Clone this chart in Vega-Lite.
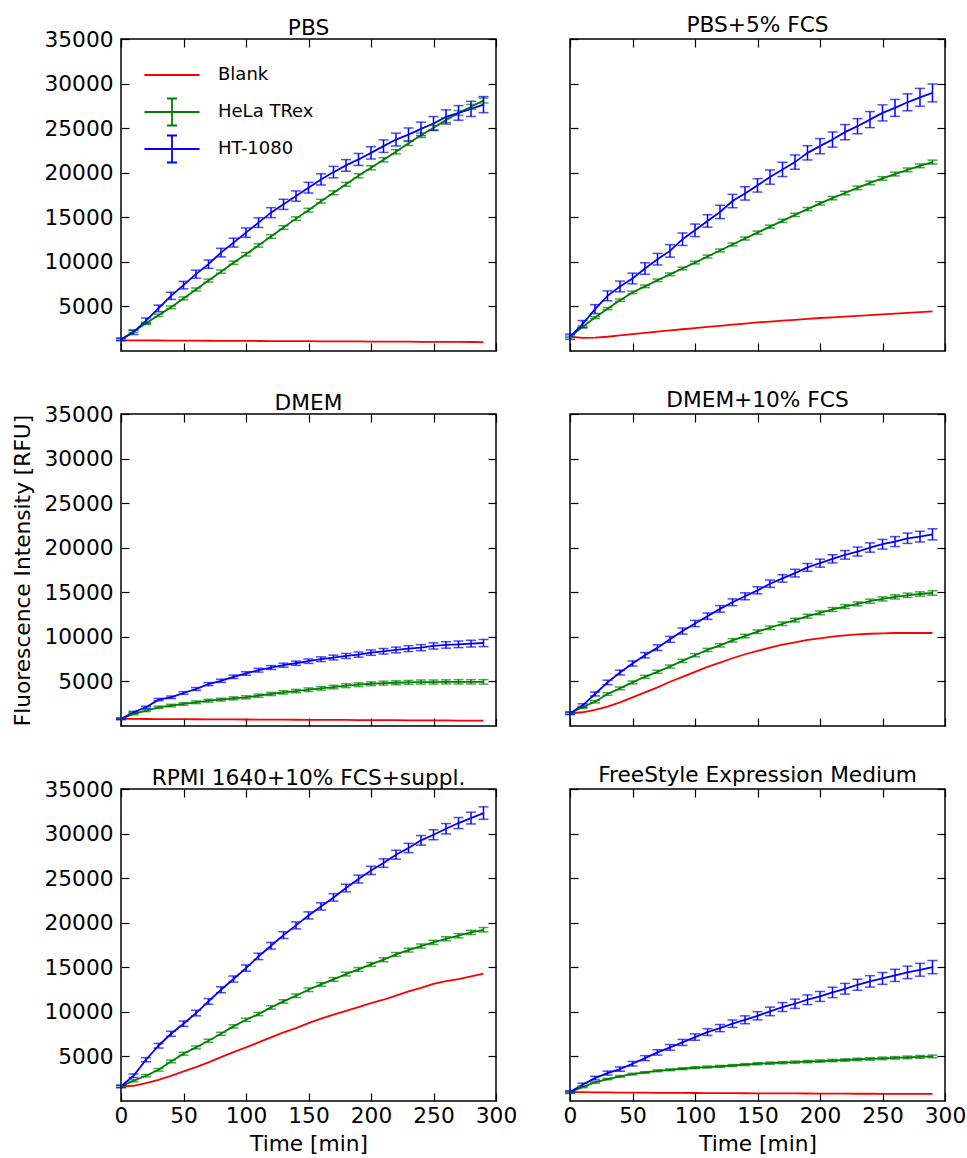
{
"$schema": "https://vega.github.io/schema/vega-lite/v6.json",
"padding": {"left": 11, "top": 14, "right": 5, "bottom": 5},
"background": "white",
"bounds": "flush",
"columns": 2,
"spacing": {"row": 63, "column": 74},
"resolve": {"scale": {"color": "independent"}, "legend": {"color": "independent"}},
"datasets": {"d": [
{"p":1,"s":"Blank","t":0,"v":1200},{"p":1,"s":"Blank","t":10,"v":1193},{"p":1,"s":"Blank","t":20,"v":1186},{"p":1,"s":"Blank","t":30,"v":1179},{"p":1,"s":"Blank","t":40,"v":1172},{"p":1,"s":"Blank","t":50,"v":1166},{"p":1,"s":"Blank","t":60,"v":1159},{"p":1,"s":"Blank","t":70,"v":1152},{"p":1,"s":"Blank","t":80,"v":1145},{"p":1,"s":"Blank","t":90,"v":1138},{"p":1,"s":"Blank","t":100,"v":1131},{"p":1,"s":"Blank","t":110,"v":1124},{"p":1,"s":"Blank","t":120,"v":1117},{"p":1,"s":"Blank","t":130,"v":1110},{"p":1,"s":"Blank","t":140,"v":1103},{"p":1,"s":"Blank","t":150,"v":1097},{"p":1,"s":"Blank","t":160,"v":1090},{"p":1,"s":"Blank","t":170,"v":1083},{"p":1,"s":"Blank","t":180,"v":1076},{"p":1,"s":"Blank","t":190,"v":1069},{"p":1,"s":"Blank","t":200,"v":1062},{"p":1,"s":"Blank","t":210,"v":1055},{"p":1,"s":"Blank","t":220,"v":1048},{"p":1,"s":"Blank","t":230,"v":1041},{"p":1,"s":"Blank","t":240,"v":1034},{"p":1,"s":"Blank","t":250,"v":1028},{"p":1,"s":"Blank","t":260,"v":1021},{"p":1,"s":"Blank","t":270,"v":1014},{"p":1,"s":"Blank","t":280,"v":1007},{"p":1,"s":"Blank","t":290,"v":1000},
{"p":1,"s":"HeLa TRex","t":0,"v":1300,"e":100},{"p":1,"s":"HeLa TRex","t":10,"v":2200,"e":120},{"p":1,"s":"HeLa TRex","t":20,"v":3100,"e":130},{"p":1,"s":"HeLa TRex","t":30,"v":4000,"e":140},{"p":1,"s":"HeLa TRex","t":40,"v":4900,"e":150},{"p":1,"s":"HeLa TRex","t":50,"v":5900,"e":160},{"p":1,"s":"HeLa TRex","t":60,"v":6900,"e":170},{"p":1,"s":"HeLa TRex","t":70,"v":7900,"e":170},{"p":1,"s":"HeLa TRex","t":80,"v":8900,"e":180},{"p":1,"s":"HeLa TRex","t":90,"v":9900,"e":180},{"p":1,"s":"HeLa TRex","t":100,"v":10850,"e":190},{"p":1,"s":"HeLa TRex","t":110,"v":11850,"e":190},{"p":1,"s":"HeLa TRex","t":120,"v":12850,"e":200},{"p":1,"s":"HeLa TRex","t":130,"v":13850,"e":200},{"p":1,"s":"HeLa TRex","t":140,"v":14850,"e":200},{"p":1,"s":"HeLa TRex","t":150,"v":15800,"e":210},{"p":1,"s":"HeLa TRex","t":160,"v":16800,"e":210},{"p":1,"s":"HeLa TRex","t":170,"v":17750,"e":220},{"p":1,"s":"HeLa TRex","t":180,"v":18700,"e":220},{"p":1,"s":"HeLa TRex","t":190,"v":19650,"e":230},{"p":1,"s":"HeLa TRex","t":200,"v":20550,"e":230},{"p":1,"s":"HeLa TRex","t":210,"v":21450,"e":240},{"p":1,"s":"HeLa TRex","t":220,"v":22350,"e":240},{"p":1,"s":"HeLa TRex","t":230,"v":23300,"e":250},{"p":1,"s":"HeLa TRex","t":240,"v":24200,"e":250},{"p":1,"s":"HeLa TRex","t":250,"v":25050,"e":260},{"p":1,"s":"HeLa TRex","t":260,"v":25900,"e":260},{"p":1,"s":"HeLa TRex","t":270,"v":26700,"e":270},{"p":1,"s":"HeLa TRex","t":280,"v":27400,"e":270},{"p":1,"s":"HeLa TRex","t":290,"v":28100,"e":280},
{"p":1,"s":"HT-1080","t":0,"v":1300,"e":150},{"p":1,"s":"HT-1080","t":10,"v":2100,"e":250},{"p":1,"s":"HT-1080","t":20,"v":3400,"e":300},{"p":1,"s":"HT-1080","t":30,"v":4780,"e":370},{"p":1,"s":"HT-1080","t":40,"v":6190,"e":400},{"p":1,"s":"HT-1080","t":50,"v":7390,"e":420},{"p":1,"s":"HT-1080","t":60,"v":8620,"e":450},{"p":1,"s":"HT-1080","t":70,"v":9740,"e":470},{"p":1,"s":"HT-1080","t":80,"v":11040,"e":480},{"p":1,"s":"HT-1080","t":90,"v":12160,"e":500},{"p":1,"s":"HT-1080","t":100,"v":13280,"e":520},{"p":1,"s":"HT-1080","t":110,"v":14400,"e":540},{"p":1,"s":"HT-1080","t":120,"v":15520,"e":560},{"p":1,"s":"HT-1080","t":130,"v":16450,"e":570},{"p":1,"s":"HT-1080","t":140,"v":17380,"e":580},{"p":1,"s":"HT-1080","t":150,"v":18320,"e":600},{"p":1,"s":"HT-1080","t":160,"v":19250,"e":620},{"p":1,"s":"HT-1080","t":170,"v":20070,"e":640},{"p":1,"s":"HT-1080","t":180,"v":20820,"e":650},{"p":1,"s":"HT-1080","t":190,"v":21490,"e":670},{"p":1,"s":"HT-1080","t":200,"v":22230,"e":690},{"p":1,"s":"HT-1080","t":210,"v":22980,"e":700},{"p":1,"s":"HT-1080","t":220,"v":23720,"e":720},{"p":1,"s":"HT-1080","t":230,"v":24280,"e":740},{"p":1,"s":"HT-1080","t":240,"v":24920,"e":760},{"p":1,"s":"HT-1080","t":250,"v":25520,"e":780},{"p":1,"s":"HT-1080","t":260,"v":26260,"e":800},{"p":1,"s":"HT-1080","t":270,"v":26710,"e":820},{"p":1,"s":"HT-1080","t":280,"v":27160,"e":850},{"p":1,"s":"HT-1080","t":290,"v":27640,"e":900},
{"p":2,"s":"Blank","t":0,"v":1600},{"p":2,"s":"Blank","t":10,"v":1480},{"p":2,"s":"Blank","t":20,"v":1500},{"p":2,"s":"Blank","t":30,"v":1600},{"p":2,"s":"Blank","t":40,"v":1750},{"p":2,"s":"Blank","t":50,"v":1900},{"p":2,"s":"Blank","t":60,"v":2040},{"p":2,"s":"Blank","t":70,"v":2180},{"p":2,"s":"Blank","t":80,"v":2310},{"p":2,"s":"Blank","t":90,"v":2440},{"p":2,"s":"Blank","t":100,"v":2575},{"p":2,"s":"Blank","t":110,"v":2700},{"p":2,"s":"Blank","t":120,"v":2830},{"p":2,"s":"Blank","t":130,"v":2950},{"p":2,"s":"Blank","t":140,"v":3080},{"p":2,"s":"Blank","t":150,"v":3200},{"p":2,"s":"Blank","t":160,"v":3300},{"p":2,"s":"Blank","t":170,"v":3400},{"p":2,"s":"Blank","t":180,"v":3500},{"p":2,"s":"Blank","t":190,"v":3600},{"p":2,"s":"Blank","t":200,"v":3700},{"p":2,"s":"Blank","t":210,"v":3780},{"p":2,"s":"Blank","t":220,"v":3860},{"p":2,"s":"Blank","t":230,"v":3940},{"p":2,"s":"Blank","t":240,"v":4020},{"p":2,"s":"Blank","t":250,"v":4100},{"p":2,"s":"Blank","t":260,"v":4190},{"p":2,"s":"Blank","t":270,"v":4270},{"p":2,"s":"Blank","t":280,"v":4360},{"p":2,"s":"Blank","t":290,"v":4440},
{"p":2,"s":"HeLa TRex","t":0,"v":1600,"e":80},{"p":2,"s":"HeLa TRex","t":10,"v":2700,"e":100},{"p":2,"s":"HeLa TRex","t":20,"v":3750,"e":110},{"p":2,"s":"HeLa TRex","t":30,"v":4750,"e":120},{"p":2,"s":"HeLa TRex","t":40,"v":5700,"e":130},{"p":2,"s":"HeLa TRex","t":50,"v":6570,"e":130},{"p":2,"s":"HeLa TRex","t":60,"v":7250,"e":140},{"p":2,"s":"HeLa TRex","t":70,"v":7930,"e":140},{"p":2,"s":"HeLa TRex","t":80,"v":8600,"e":150},{"p":2,"s":"HeLa TRex","t":90,"v":9260,"e":150},{"p":2,"s":"HeLa TRex","t":100,"v":9920,"e":150},{"p":2,"s":"HeLa TRex","t":110,"v":10600,"e":160},{"p":2,"s":"HeLa TRex","t":120,"v":11280,"e":160},{"p":2,"s":"HeLa TRex","t":130,"v":11950,"e":160},{"p":2,"s":"HeLa TRex","t":140,"v":12620,"e":170},{"p":2,"s":"HeLa TRex","t":150,"v":13280,"e":170},{"p":2,"s":"HeLa TRex","t":160,"v":13950,"e":170},{"p":2,"s":"HeLa TRex","t":170,"v":14600,"e":180},{"p":2,"s":"HeLa TRex","t":180,"v":15270,"e":180},{"p":2,"s":"HeLa TRex","t":190,"v":15920,"e":180},{"p":2,"s":"HeLa TRex","t":200,"v":16560,"e":190},{"p":2,"s":"HeLa TRex","t":210,"v":17150,"e":190},{"p":2,"s":"HeLa TRex","t":220,"v":17720,"e":190},{"p":2,"s":"HeLa TRex","t":230,"v":18300,"e":200},{"p":2,"s":"HeLa TRex","t":240,"v":18850,"e":200},{"p":2,"s":"HeLa TRex","t":250,"v":19360,"e":200},{"p":2,"s":"HeLa TRex","t":260,"v":19850,"e":210},{"p":2,"s":"HeLa TRex","t":270,"v":20320,"e":210},{"p":2,"s":"HeLa TRex","t":280,"v":20770,"e":210},{"p":2,"s":"HeLa TRex","t":290,"v":21190,"e":220},
{"p":2,"s":"HT-1080","t":0,"v":1600,"e":300},{"p":2,"s":"HT-1080","t":10,"v":3020,"e":400},{"p":2,"s":"HT-1080","t":20,"v":4700,"e":500},{"p":2,"s":"HT-1080","t":30,"v":6190,"e":550},{"p":2,"s":"HT-1080","t":40,"v":7240,"e":600},{"p":2,"s":"HT-1080","t":50,"v":8130,"e":600},{"p":2,"s":"HT-1080","t":60,"v":9250,"e":650},{"p":2,"s":"HT-1080","t":70,"v":10300,"e":650},{"p":2,"s":"HT-1080","t":80,"v":11230,"e":700},{"p":2,"s":"HT-1080","t":90,"v":12540,"e":700},{"p":2,"s":"HT-1080","t":100,"v":13540,"e":700},{"p":2,"s":"HT-1080","t":110,"v":14590,"e":700},{"p":2,"s":"HT-1080","t":120,"v":15600,"e":750},{"p":2,"s":"HT-1080","t":130,"v":16820,"e":750},{"p":2,"s":"HT-1080","t":140,"v":17680,"e":750},{"p":2,"s":"HT-1080","t":150,"v":18580,"e":750},{"p":2,"s":"HT-1080","t":160,"v":19510,"e":800},{"p":2,"s":"HT-1080","t":170,"v":20370,"e":800},{"p":2,"s":"HT-1080","t":180,"v":21190,"e":800},{"p":2,"s":"HT-1080","t":190,"v":22230,"e":800},{"p":2,"s":"HT-1080","t":200,"v":22980,"e":850},{"p":2,"s":"HT-1080","t":210,"v":23720,"e":850},{"p":2,"s":"HT-1080","t":220,"v":24550,"e":850},{"p":2,"s":"HT-1080","t":230,"v":25220,"e":850},{"p":2,"s":"HT-1080","t":240,"v":25960,"e":900},{"p":2,"s":"HT-1080","t":250,"v":26710,"e":900},{"p":2,"s":"HT-1080","t":260,"v":27270,"e":950},{"p":2,"s":"HT-1080","t":270,"v":27900,"e":950},{"p":2,"s":"HT-1080","t":280,"v":28460,"e":1000},{"p":2,"s":"HT-1080","t":290,"v":28950,"e":1000},
{"p":3,"s":"Blank","t":0,"v":800},{"p":3,"s":"Blank","t":10,"v":793},{"p":3,"s":"Blank","t":20,"v":786},{"p":3,"s":"Blank","t":30,"v":779},{"p":3,"s":"Blank","t":40,"v":772},{"p":3,"s":"Blank","t":50,"v":766},{"p":3,"s":"Blank","t":60,"v":759},{"p":3,"s":"Blank","t":70,"v":752},{"p":3,"s":"Blank","t":80,"v":745},{"p":3,"s":"Blank","t":90,"v":738},{"p":3,"s":"Blank","t":100,"v":731},{"p":3,"s":"Blank","t":110,"v":724},{"p":3,"s":"Blank","t":120,"v":717},{"p":3,"s":"Blank","t":130,"v":710},{"p":3,"s":"Blank","t":140,"v":703},{"p":3,"s":"Blank","t":150,"v":697},{"p":3,"s":"Blank","t":160,"v":690},{"p":3,"s":"Blank","t":170,"v":683},{"p":3,"s":"Blank","t":180,"v":676},{"p":3,"s":"Blank","t":190,"v":669},{"p":3,"s":"Blank","t":200,"v":662},{"p":3,"s":"Blank","t":210,"v":655},{"p":3,"s":"Blank","t":220,"v":648},{"p":3,"s":"Blank","t":230,"v":641},{"p":3,"s":"Blank","t":240,"v":634},{"p":3,"s":"Blank","t":250,"v":628},{"p":3,"s":"Blank","t":260,"v":621},{"p":3,"s":"Blank","t":270,"v":614},{"p":3,"s":"Blank","t":280,"v":607},{"p":3,"s":"Blank","t":290,"v":600},
{"p":3,"s":"HeLa TRex","t":0,"v":800,"e":80},{"p":3,"s":"HeLa TRex","t":10,"v":1360,"e":100},{"p":3,"s":"HeLa TRex","t":20,"v":1730,"e":120},{"p":3,"s":"HeLa TRex","t":30,"v":2100,"e":130},{"p":3,"s":"HeLa TRex","t":40,"v":2290,"e":140},{"p":3,"s":"HeLa TRex","t":50,"v":2470,"e":150},{"p":3,"s":"HeLa TRex","t":60,"v":2660,"e":150},{"p":3,"s":"HeLa TRex","t":70,"v":2840,"e":160},{"p":3,"s":"HeLa TRex","t":80,"v":2960,"e":160},{"p":3,"s":"HeLa TRex","t":90,"v":3100,"e":170},{"p":3,"s":"HeLa TRex","t":100,"v":3220,"e":170},{"p":3,"s":"HeLa TRex","t":110,"v":3400,"e":180},{"p":3,"s":"HeLa TRex","t":120,"v":3590,"e":180},{"p":3,"s":"HeLa TRex","t":130,"v":3770,"e":190},{"p":3,"s":"HeLa TRex","t":140,"v":3920,"e":190},{"p":3,"s":"HeLa TRex","t":150,"v":4070,"e":200},{"p":3,"s":"HeLa TRex","t":160,"v":4220,"e":200},{"p":3,"s":"HeLa TRex","t":170,"v":4370,"e":200},{"p":3,"s":"HeLa TRex","t":180,"v":4520,"e":210},{"p":3,"s":"HeLa TRex","t":190,"v":4630,"e":210},{"p":3,"s":"HeLa TRex","t":200,"v":4740,"e":210},{"p":3,"s":"HeLa TRex","t":210,"v":4810,"e":220},{"p":3,"s":"HeLa TRex","t":220,"v":4850,"e":220},{"p":3,"s":"HeLa TRex","t":230,"v":4890,"e":220},{"p":3,"s":"HeLa TRex","t":240,"v":4930,"e":230},{"p":3,"s":"HeLa TRex","t":250,"v":4930,"e":230},{"p":3,"s":"HeLa TRex","t":260,"v":4950,"e":230},{"p":3,"s":"HeLa TRex","t":270,"v":4960,"e":240},{"p":3,"s":"HeLa TRex","t":280,"v":4960,"e":240},{"p":3,"s":"HeLa TRex","t":290,"v":4950,"e":250},
{"p":3,"s":"HT-1080","t":0,"v":800,"e":80},{"p":3,"s":"HT-1080","t":10,"v":1540,"e":100},{"p":3,"s":"HT-1080","t":20,"v":2100,"e":120},{"p":3,"s":"HT-1080","t":30,"v":2960,"e":130},{"p":3,"s":"HT-1080","t":40,"v":3220,"e":140},{"p":3,"s":"HT-1080","t":50,"v":3700,"e":150},{"p":3,"s":"HT-1080","t":60,"v":4150,"e":160},{"p":3,"s":"HT-1080","t":70,"v":4700,"e":170},{"p":3,"s":"HT-1080","t":80,"v":5070,"e":180},{"p":3,"s":"HT-1080","t":90,"v":5520,"e":190},{"p":3,"s":"HT-1080","t":100,"v":5890,"e":200},{"p":3,"s":"HT-1080","t":110,"v":6260,"e":210},{"p":3,"s":"HT-1080","t":120,"v":6560,"e":220},{"p":3,"s":"HT-1080","t":130,"v":6820,"e":230},{"p":3,"s":"HT-1080","t":140,"v":7040,"e":240},{"p":3,"s":"HT-1080","t":150,"v":7270,"e":250},{"p":3,"s":"HT-1080","t":160,"v":7490,"e":260},{"p":3,"s":"HT-1080","t":170,"v":7680,"e":270},{"p":3,"s":"HT-1080","t":180,"v":7860,"e":280},{"p":3,"s":"HT-1080","t":190,"v":8010,"e":290},{"p":3,"s":"HT-1080","t":200,"v":8230,"e":300},{"p":3,"s":"HT-1080","t":210,"v":8380,"e":310},{"p":3,"s":"HT-1080","t":220,"v":8530,"e":320},{"p":3,"s":"HT-1080","t":230,"v":8680,"e":330},{"p":3,"s":"HT-1080","t":240,"v":8790,"e":340},{"p":3,"s":"HT-1080","t":250,"v":8980,"e":350},{"p":3,"s":"HT-1080","t":260,"v":9090,"e":360},{"p":3,"s":"HT-1080","t":270,"v":9160,"e":370},{"p":3,"s":"HT-1080","t":280,"v":9240,"e":380},{"p":3,"s":"HT-1080","t":290,"v":9310,"e":400},
{"p":4,"s":"Blank","t":0,"v":1430},{"p":4,"s":"Blank","t":10,"v":1540},{"p":4,"s":"Blank","t":20,"v":1800},{"p":4,"s":"Blank","t":30,"v":2180},{"p":4,"s":"Blank","t":40,"v":2660},{"p":4,"s":"Blank","t":50,"v":3220},{"p":4,"s":"Blank","t":60,"v":3770},{"p":4,"s":"Blank","t":70,"v":4330},{"p":4,"s":"Blank","t":80,"v":4960},{"p":4,"s":"Blank","t":90,"v":5520},{"p":4,"s":"Blank","t":100,"v":6080},{"p":4,"s":"Blank","t":110,"v":6640},{"p":4,"s":"Blank","t":120,"v":7120},{"p":4,"s":"Blank","t":130,"v":7600},{"p":4,"s":"Blank","t":140,"v":8050},{"p":4,"s":"Blank","t":150,"v":8420},{"p":4,"s":"Blank","t":160,"v":8790},{"p":4,"s":"Blank","t":170,"v":9130},{"p":4,"s":"Blank","t":180,"v":9390},{"p":4,"s":"Blank","t":190,"v":9650},{"p":4,"s":"Blank","t":200,"v":9830},{"p":4,"s":"Blank","t":210,"v":10020},{"p":4,"s":"Blank","t":220,"v":10170},{"p":4,"s":"Blank","t":230,"v":10280},{"p":4,"s":"Blank","t":240,"v":10350},{"p":4,"s":"Blank","t":250,"v":10390},{"p":4,"s":"Blank","t":260,"v":10430},{"p":4,"s":"Blank","t":270,"v":10430},{"p":4,"s":"Blank","t":280,"v":10430},{"p":4,"s":"Blank","t":290,"v":10430},
{"p":4,"s":"HeLa TRex","t":0,"v":1430,"e":100},{"p":4,"s":"HeLa TRex","t":10,"v":2100,"e":120},{"p":4,"s":"HeLa TRex","t":20,"v":2730,"e":130},{"p":4,"s":"HeLa TRex","t":30,"v":3590,"e":140},{"p":4,"s":"HeLa TRex","t":40,"v":4220,"e":150},{"p":4,"s":"HeLa TRex","t":50,"v":4890,"e":160},{"p":4,"s":"HeLa TRex","t":60,"v":5520,"e":160},{"p":4,"s":"HeLa TRex","t":70,"v":6080,"e":170},{"p":4,"s":"HeLa TRex","t":80,"v":6670,"e":170},{"p":4,"s":"HeLa TRex","t":90,"v":7300,"e":180},{"p":4,"s":"HeLa TRex","t":100,"v":7940,"e":180},{"p":4,"s":"HeLa TRex","t":110,"v":8530,"e":180},{"p":4,"s":"HeLa TRex","t":120,"v":9050,"e":190},{"p":4,"s":"HeLa TRex","t":130,"v":9610,"e":190},{"p":4,"s":"HeLa TRex","t":140,"v":10090,"e":190},{"p":4,"s":"HeLa TRex","t":150,"v":10580,"e":200},{"p":4,"s":"HeLa TRex","t":160,"v":11020,"e":200},{"p":4,"s":"HeLa TRex","t":170,"v":11470,"e":200},{"p":4,"s":"HeLa TRex","t":180,"v":11880,"e":210},{"p":4,"s":"HeLa TRex","t":190,"v":12320,"e":210},{"p":4,"s":"HeLa TRex","t":200,"v":12690,"e":210},{"p":4,"s":"HeLa TRex","t":210,"v":13070,"e":220},{"p":4,"s":"HeLa TRex","t":220,"v":13400,"e":220},{"p":4,"s":"HeLa TRex","t":230,"v":13700,"e":220},{"p":4,"s":"HeLa TRex","t":240,"v":14000,"e":230},{"p":4,"s":"HeLa TRex","t":250,"v":14260,"e":230},{"p":4,"s":"HeLa TRex","t":260,"v":14480,"e":230},{"p":4,"s":"HeLa TRex","t":270,"v":14660,"e":240},{"p":4,"s":"HeLa TRex","t":280,"v":14810,"e":240},{"p":4,"s":"HeLa TRex","t":290,"v":14920,"e":250},
{"p":4,"s":"HT-1080","t":0,"v":1430,"e":150},{"p":4,"s":"HT-1080","t":10,"v":2290,"e":200},{"p":4,"s":"HT-1080","t":20,"v":3590,"e":220},{"p":4,"s":"HT-1080","t":30,"v":4890,"e":250},{"p":4,"s":"HT-1080","t":40,"v":6000,"e":270},{"p":4,"s":"HT-1080","t":50,"v":7010,"e":290},{"p":4,"s":"HT-1080","t":60,"v":7940,"e":300},{"p":4,"s":"HT-1080","t":70,"v":8790,"e":320},{"p":4,"s":"HT-1080","t":80,"v":9720,"e":330},{"p":4,"s":"HT-1080","t":90,"v":10650,"e":340},{"p":4,"s":"HT-1080","t":100,"v":11500,"e":350},{"p":4,"s":"HT-1080","t":110,"v":12320,"e":360},{"p":4,"s":"HT-1080","t":120,"v":13140,"e":370},{"p":4,"s":"HT-1080","t":130,"v":13880,"e":380},{"p":4,"s":"HT-1080","t":140,"v":14550,"e":390},{"p":4,"s":"HT-1080","t":150,"v":15220,"e":400},{"p":4,"s":"HT-1080","t":160,"v":15960,"e":410},{"p":4,"s":"HT-1080","t":170,"v":16560,"e":420},{"p":4,"s":"HT-1080","t":180,"v":17150,"e":430},{"p":4,"s":"HT-1080","t":190,"v":17790,"e":440},{"p":4,"s":"HT-1080","t":200,"v":18270,"e":450},{"p":4,"s":"HT-1080","t":210,"v":18750,"e":460},{"p":4,"s":"HT-1080","t":220,"v":19200,"e":480},{"p":4,"s":"HT-1080","t":230,"v":19570,"e":500},{"p":4,"s":"HT-1080","t":240,"v":20020,"e":520},{"p":4,"s":"HT-1080","t":250,"v":20390,"e":540},{"p":4,"s":"HT-1080","t":260,"v":20690,"e":560},{"p":4,"s":"HT-1080","t":270,"v":21060,"e":580},{"p":4,"s":"HT-1080","t":280,"v":21240,"e":600},{"p":4,"s":"HT-1080","t":290,"v":21500,"e":620},
{"p":5,"s":"Blank","t":0,"v":1634},{"p":5,"s":"Blank","t":10,"v":1710},{"p":5,"s":"Blank","t":20,"v":2010},{"p":5,"s":"Blank","t":30,"v":2380},{"p":5,"s":"Blank","t":40,"v":2830},{"p":5,"s":"Blank","t":50,"v":3320},{"p":5,"s":"Blank","t":60,"v":3800},{"p":5,"s":"Blank","t":70,"v":4330},{"p":5,"s":"Blank","t":80,"v":4930},{"p":5,"s":"Blank","t":90,"v":5490},{"p":5,"s":"Blank","t":100,"v":6010},{"p":5,"s":"Blank","t":110,"v":6570},{"p":5,"s":"Blank","t":120,"v":7130},{"p":5,"s":"Blank","t":130,"v":7690},{"p":5,"s":"Blank","t":140,"v":8180},{"p":5,"s":"Blank","t":150,"v":8740},{"p":5,"s":"Blank","t":160,"v":9230},{"p":5,"s":"Blank","t":170,"v":9680},{"p":5,"s":"Blank","t":180,"v":10120},{"p":5,"s":"Blank","t":190,"v":10540},{"p":5,"s":"Blank","t":200,"v":10980},{"p":5,"s":"Blank","t":210,"v":11360},{"p":5,"s":"Blank","t":220,"v":11810},{"p":5,"s":"Blank","t":230,"v":12290},{"p":5,"s":"Blank","t":240,"v":12700},{"p":5,"s":"Blank","t":250,"v":13150},{"p":5,"s":"Blank","t":260,"v":13450},{"p":5,"s":"Blank","t":270,"v":13680},{"p":5,"s":"Blank","t":280,"v":13980},{"p":5,"s":"Blank","t":290,"v":14280},
{"p":5,"s":"HeLa TRex","t":0,"v":1634,"e":100},{"p":5,"s":"HeLa TRex","t":10,"v":2270,"e":120},{"p":5,"s":"HeLa TRex","t":20,"v":2830,"e":130},{"p":5,"s":"HeLa TRex","t":30,"v":3500,"e":140},{"p":5,"s":"HeLa TRex","t":40,"v":4440,"e":150},{"p":5,"s":"HeLa TRex","t":50,"v":5300,"e":160},{"p":5,"s":"HeLa TRex","t":60,"v":6010,"e":160},{"p":5,"s":"HeLa TRex","t":70,"v":6760,"e":170},{"p":5,"s":"HeLa TRex","t":80,"v":7540,"e":170},{"p":5,"s":"HeLa TRex","t":90,"v":8370,"e":180},{"p":5,"s":"HeLa TRex","t":100,"v":9110,"e":180},{"p":5,"s":"HeLa TRex","t":110,"v":9750,"e":180},{"p":5,"s":"HeLa TRex","t":120,"v":10500,"e":190},{"p":5,"s":"HeLa TRex","t":130,"v":11170,"e":190},{"p":5,"s":"HeLa TRex","t":140,"v":11810,"e":190},{"p":5,"s":"HeLa TRex","t":150,"v":12480,"e":200},{"p":5,"s":"HeLa TRex","t":160,"v":13080,"e":200},{"p":5,"s":"HeLa TRex","t":170,"v":13640,"e":200},{"p":5,"s":"HeLa TRex","t":180,"v":14240,"e":210},{"p":5,"s":"HeLa TRex","t":190,"v":14760,"e":210},{"p":5,"s":"HeLa TRex","t":200,"v":15320,"e":210},{"p":5,"s":"HeLa TRex","t":210,"v":15850,"e":220},{"p":5,"s":"HeLa TRex","t":220,"v":16440,"e":220},{"p":5,"s":"HeLa TRex","t":230,"v":16930,"e":220},{"p":5,"s":"HeLa TRex","t":240,"v":17380,"e":230},{"p":5,"s":"HeLa TRex","t":250,"v":17790,"e":230},{"p":5,"s":"HeLa TRex","t":260,"v":18200,"e":230},{"p":5,"s":"HeLa TRex","t":270,"v":18540,"e":240},{"p":5,"s":"HeLa TRex","t":280,"v":18910,"e":240},{"p":5,"s":"HeLa TRex","t":290,"v":19210,"e":250},
{"p":5,"s":"HT-1080","t":0,"v":1634,"e":150},{"p":5,"s":"HT-1080","t":10,"v":2830,"e":200},{"p":5,"s":"HT-1080","t":20,"v":4630,"e":230},{"p":5,"s":"HT-1080","t":30,"v":6200,"e":260},{"p":5,"s":"HT-1080","t":40,"v":7540,"e":280},{"p":5,"s":"HT-1080","t":50,"v":8670,"e":300},{"p":5,"s":"HT-1080","t":60,"v":9860,"e":310},{"p":5,"s":"HT-1080","t":70,"v":11170,"e":320},{"p":5,"s":"HT-1080","t":80,"v":12480,"e":330},{"p":5,"s":"HT-1080","t":90,"v":13680,"e":340},{"p":5,"s":"HT-1080","t":100,"v":14910,"e":350},{"p":5,"s":"HT-1080","t":110,"v":16220,"e":360},{"p":5,"s":"HT-1080","t":120,"v":17420,"e":370},{"p":5,"s":"HT-1080","t":130,"v":18610,"e":380},{"p":5,"s":"HT-1080","t":140,"v":19700,"e":390},{"p":5,"s":"HT-1080","t":150,"v":20820,"e":400},{"p":5,"s":"HT-1080","t":160,"v":21830,"e":410},{"p":5,"s":"HT-1080","t":170,"v":22840,"e":420},{"p":5,"s":"HT-1080","t":180,"v":23890,"e":430},{"p":5,"s":"HT-1080","t":190,"v":24900,"e":440},{"p":5,"s":"HT-1080","t":200,"v":25870,"e":460},{"p":5,"s":"HT-1080","t":210,"v":26690,"e":480},{"p":5,"s":"HT-1080","t":220,"v":27630,"e":500},{"p":5,"s":"HT-1080","t":230,"v":28380,"e":520},{"p":5,"s":"HT-1080","t":240,"v":29240,"e":540},{"p":5,"s":"HT-1080","t":250,"v":29870,"e":560},{"p":5,"s":"HT-1080","t":260,"v":30540,"e":580},{"p":5,"s":"HT-1080","t":270,"v":31180,"e":620},{"p":5,"s":"HT-1080","t":280,"v":31740,"e":660},{"p":5,"s":"HT-1080","t":290,"v":32300,"e":700},
{"p":6,"s":"Blank","t":0,"v":1000},{"p":6,"s":"Blank","t":10,"v":990},{"p":6,"s":"Blank","t":20,"v":975},{"p":6,"s":"Blank","t":30,"v":960},{"p":6,"s":"Blank","t":40,"v":950},{"p":6,"s":"Blank","t":50,"v":940},{"p":6,"s":"Blank","t":60,"v":930},{"p":6,"s":"Blank","t":70,"v":920},{"p":6,"s":"Blank","t":80,"v":912},{"p":6,"s":"Blank","t":90,"v":905},{"p":6,"s":"Blank","t":100,"v":898},{"p":6,"s":"Blank","t":110,"v":891},{"p":6,"s":"Blank","t":120,"v":884},{"p":6,"s":"Blank","t":130,"v":877},{"p":6,"s":"Blank","t":140,"v":870},{"p":6,"s":"Blank","t":150,"v":864},{"p":6,"s":"Blank","t":160,"v":858},{"p":6,"s":"Blank","t":170,"v":852},{"p":6,"s":"Blank","t":180,"v":846},{"p":6,"s":"Blank","t":190,"v":840},{"p":6,"s":"Blank","t":200,"v":834},{"p":6,"s":"Blank","t":210,"v":828},{"p":6,"s":"Blank","t":220,"v":822},{"p":6,"s":"Blank","t":230,"v":816},{"p":6,"s":"Blank","t":240,"v":811},{"p":6,"s":"Blank","t":250,"v":806},{"p":6,"s":"Blank","t":260,"v":801},{"p":6,"s":"Blank","t":270,"v":797},{"p":6,"s":"Blank","t":280,"v":793},{"p":6,"s":"Blank","t":290,"v":790},
{"p":6,"s":"HeLa TRex","t":0,"v":1000,"e":60},{"p":6,"s":"HeLa TRex","t":10,"v":1560,"e":70},{"p":6,"s":"HeLa TRex","t":20,"v":2080,"e":80},{"p":6,"s":"HeLa TRex","t":30,"v":2460,"e":80},{"p":6,"s":"HeLa TRex","t":40,"v":2760,"e":90},{"p":6,"s":"HeLa TRex","t":50,"v":3020,"e":90},{"p":6,"s":"HeLa TRex","t":60,"v":3200,"e":90},{"p":6,"s":"HeLa TRex","t":70,"v":3390,"e":100},{"p":6,"s":"HeLa TRex","t":80,"v":3500,"e":100},{"p":6,"s":"HeLa TRex","t":90,"v":3620,"e":100},{"p":6,"s":"HeLa TRex","t":100,"v":3730,"e":100},{"p":6,"s":"HeLa TRex","t":110,"v":3810,"e":110},{"p":6,"s":"HeLa TRex","t":120,"v":3880,"e":110},{"p":6,"s":"HeLa TRex","t":130,"v":3980,"e":110},{"p":6,"s":"HeLa TRex","t":140,"v":4080,"e":110},{"p":6,"s":"HeLa TRex","t":150,"v":4180,"e":120},{"p":6,"s":"HeLa TRex","t":160,"v":4240,"e":120},{"p":6,"s":"HeLa TRex","t":170,"v":4300,"e":120},{"p":6,"s":"HeLa TRex","t":180,"v":4360,"e":120},{"p":6,"s":"HeLa TRex","t":190,"v":4420,"e":130},{"p":6,"s":"HeLa TRex","t":200,"v":4480,"e":130},{"p":6,"s":"HeLa TRex","t":210,"v":4540,"e":130},{"p":6,"s":"HeLa TRex","t":220,"v":4600,"e":130},{"p":6,"s":"HeLa TRex","t":230,"v":4660,"e":140},{"p":6,"s":"HeLa TRex","t":240,"v":4720,"e":140},{"p":6,"s":"HeLa TRex","t":250,"v":4780,"e":140},{"p":6,"s":"HeLa TRex","t":260,"v":4840,"e":140},{"p":6,"s":"HeLa TRex","t":270,"v":4890,"e":150},{"p":6,"s":"HeLa TRex","t":280,"v":4950,"e":150},{"p":6,"s":"HeLa TRex","t":290,"v":5000,"e":150},
{"p":6,"s":"HT-1080","t":0,"v":1000,"e":150},{"p":6,"s":"HT-1080","t":10,"v":1820,"e":180},{"p":6,"s":"HT-1080","t":20,"v":2570,"e":200},{"p":6,"s":"HT-1080","t":30,"v":3130,"e":220},{"p":6,"s":"HT-1080","t":40,"v":3580,"e":240},{"p":6,"s":"HT-1080","t":50,"v":4180,"e":260},{"p":6,"s":"HT-1080","t":60,"v":4810,"e":280},{"p":6,"s":"HT-1080","t":70,"v":5450,"e":300},{"p":6,"s":"HT-1080","t":80,"v":6010,"e":320},{"p":6,"s":"HT-1080","t":90,"v":6570,"e":340},{"p":6,"s":"HT-1080","t":100,"v":7170,"e":360},{"p":6,"s":"HT-1080","t":110,"v":7730,"e":380},{"p":6,"s":"HT-1080","t":120,"v":8180,"e":400},{"p":6,"s":"HT-1080","t":130,"v":8670,"e":420},{"p":6,"s":"HT-1080","t":140,"v":9110,"e":440},{"p":6,"s":"HT-1080","t":150,"v":9560,"e":460},{"p":6,"s":"HT-1080","t":160,"v":10050,"e":480},{"p":6,"s":"HT-1080","t":170,"v":10540,"e":500},{"p":6,"s":"HT-1080","t":180,"v":10910,"e":520},{"p":6,"s":"HT-1080","t":190,"v":11360,"e":540},{"p":6,"s":"HT-1080","t":200,"v":11730,"e":560},{"p":6,"s":"HT-1080","t":210,"v":12180,"e":580},{"p":6,"s":"HT-1080","t":220,"v":12590,"e":600},{"p":6,"s":"HT-1080","t":230,"v":13040,"e":620},{"p":6,"s":"HT-1080","t":240,"v":13420,"e":640},{"p":6,"s":"HT-1080","t":250,"v":13750,"e":660},{"p":6,"s":"HT-1080","t":260,"v":14090,"e":680},{"p":6,"s":"HT-1080","t":270,"v":14430,"e":700},{"p":6,"s":"HT-1080","t":280,"v":14720,"e":720},{"p":6,"s":"HT-1080","t":290,"v":15020,"e":740}
]},
"data": {"name": "d"},
"concat": [
{"width": 375, "height": 312, "title": {"text": "PBS", "offset": -10.4},
 "transform": [{"filter": "datum.p === 1"}],
 "resolve": {"axis": {"x": "independent", "y": "independent"}},
 "layer": [
  {"mark": {"type": "line", "strokeWidth": 1.8},
   "encoding": {
    "x": {"field": "t", "type": "quantitative", "scale": {"domain": [0, 300]}, "axis": {"orient": "bottom", "values": [0,50,100,150,200,250,300], "labels": false, "title": null}},
    "y": {"field": "v", "type": "quantitative", "scale": {"domain": [0, 35000]}, "axis": {"orient": "left", "values": [5000,10000,15000,20000,25000,30000,35000], "format": "d", "title": null}},
    "color": {"field": "s", "type": "nominal", "scale": {"domain": ["Blank","HeLa TRex","HT-1080"], "range": ["#ff0000","#008000","#0000ff"]},
      "legend": {"orient": "none", "legendX": 32, "legendY": 17, "title": null, "padding": 0, "rowPadding": 0, "labelFontSize": 18, "labelFont": "DejaVu Sans", "labelColor": "#000", "labelOffset": 27, "symbolSize": 1296, "symbolStrokeWidth": 1.8,
        "symbolType": "M-1.53,0H1.53M0,-0.75V0.75M-0.28,-0.75H0.28M-0.28,0.75H0.28",
        "encode": {"symbols": {"update": {"shape": {"signal": "datum.value === 'Blank' ? 'M-1.53,0H1.53M0,-0.75L0,-0.75M0,0.75L0,0.75' : 'M-1.53,0H1.53M0,-0.75V0.75M-0.28,-0.75H0.28M-0.28,0.75H0.28'"}}}}}}
   }},
  {"transform": [{"filter": "datum.s !== 'Blank'"}],
   "mark": {"type": "errorbar", "ticks": true, "size": 10, "thickness": 1.5},
   "encoding": {
    "x": {"field": "t", "type": "quantitative", "axis": {"orient": "top", "values": [0,50,100,150,200,250,300], "labels": false, "title": null}},
    "y": {"field": "v", "type": "quantitative", "axis": {"orient": "right", "values": [5000,10000,15000,20000,25000,30000,35000], "labels": false, "title": null}},
    "yError": {"field": "e"},
    "color": {"field": "s", "type": "nominal", "legend": null}
   }}
 ]},
{"width": 375, "height": 312, "title": {"text": "PBS+5% FCS", "offset": 1.6},
 "transform": [{"filter": "datum.p === 2"}],
 "resolve": {"axis": {"x": "independent", "y": "independent"}},
 "layer": [
  {"mark": {"type": "line", "strokeWidth": 1.8},
   "encoding": {
    "x": {"field": "t", "type": "quantitative", "scale": {"domain": [0, 300]}, "axis": {"orient": "bottom", "values": [0,50,100,150,200,250,300], "labels": false, "title": null}},
    "y": {"field": "v", "type": "quantitative", "scale": {"domain": [0, 35000]}, "axis": {"orient": "left", "values": [5000,10000,15000,20000,25000,30000,35000], "labels": false, "title": null}},
    "color": {"field": "s", "type": "nominal", "scale": {"domain": ["Blank","HeLa TRex","HT-1080"], "range": ["#ff0000","#008000","#0000ff"]}, "legend": null}
   }},
  {"transform": [{"filter": "datum.s !== 'Blank'"}],
   "mark": {"type": "errorbar", "ticks": true, "size": 10, "thickness": 1.5},
   "encoding": {
    "x": {"field": "t", "type": "quantitative", "axis": {"orient": "top", "values": [0,50,100,150,200,250,300], "labels": false, "title": null}},
    "y": {"field": "v", "type": "quantitative", "axis": {"orient": "right", "values": [5000,10000,15000,20000,25000,30000,35000], "labels": false, "title": null}},
    "yError": {"field": "e"},
    "color": {"field": "s", "type": "nominal", "legend": null}
   }}
 ]},
{"width": 375, "height": 312, "title": {"text": "DMEM", "offset": -10.4},
 "transform": [{"filter": "datum.p === 3"}],
 "resolve": {"axis": {"x": "independent", "y": "independent"}},
 "layer": [
  {"mark": {"type": "line", "strokeWidth": 1.8},
   "encoding": {
    "x": {"field": "t", "type": "quantitative", "scale": {"domain": [0, 300]}, "axis": {"orient": "bottom", "values": [0,50,100,150,200,250,300], "labels": false, "title": null}},
    "y": {"field": "v", "type": "quantitative", "scale": {"domain": [0, 35000]}, "axis": {"orient": "left", "values": [5000,10000,15000,20000,25000,30000,35000], "format": "d", "title": "Fluorescence Intensity [RFU]", "titlePadding": 10}},
    "color": {"field": "s", "type": "nominal", "scale": {"domain": ["Blank","HeLa TRex","HT-1080"], "range": ["#ff0000","#008000","#0000ff"]}, "legend": null}
   }},
  {"transform": [{"filter": "datum.s !== 'Blank'"}],
   "mark": {"type": "errorbar", "ticks": true, "size": 10, "thickness": 1.5},
   "encoding": {
    "x": {"field": "t", "type": "quantitative", "axis": {"orient": "top", "values": [0,50,100,150,200,250,300], "labels": false, "title": null}},
    "y": {"field": "v", "type": "quantitative", "axis": {"orient": "right", "values": [5000,10000,15000,20000,25000,30000,35000], "labels": false, "title": null}},
    "yError": {"field": "e"},
    "color": {"field": "s", "type": "nominal", "legend": null}
   }}
 ]},
{"width": 375, "height": 312, "title": {"text": "DMEM+10% FCS", "offset": 1.6},
 "transform": [{"filter": "datum.p === 4"}],
 "resolve": {"axis": {"x": "independent", "y": "independent"}},
 "layer": [
  {"mark": {"type": "line", "strokeWidth": 1.8},
   "encoding": {
    "x": {"field": "t", "type": "quantitative", "scale": {"domain": [0, 300]}, "axis": {"orient": "bottom", "values": [0,50,100,150,200,250,300], "labels": false, "title": null}},
    "y": {"field": "v", "type": "quantitative", "scale": {"domain": [0, 35000]}, "axis": {"orient": "left", "values": [5000,10000,15000,20000,25000,30000,35000], "labels": false, "title": null}},
    "color": {"field": "s", "type": "nominal", "scale": {"domain": ["Blank","HeLa TRex","HT-1080"], "range": ["#ff0000","#008000","#0000ff"]}, "legend": null}
   }},
  {"transform": [{"filter": "datum.s !== 'Blank'"}],
   "mark": {"type": "errorbar", "ticks": true, "size": 10, "thickness": 1.5},
   "encoding": {
    "x": {"field": "t", "type": "quantitative", "axis": {"orient": "top", "values": [0,50,100,150,200,250,300], "labels": false, "title": null}},
    "y": {"field": "v", "type": "quantitative", "axis": {"orient": "right", "values": [5000,10000,15000,20000,25000,30000,35000], "labels": false, "title": null}},
    "yError": {"field": "e"},
    "color": {"field": "s", "type": "nominal", "legend": null}
   }}
 ]},
{"width": 375, "height": 312, "title": {"text": "RPMI 1640+10% FCS+suppl.", "offset": -10.4},
 "transform": [{"filter": "datum.p === 5"}],
 "resolve": {"axis": {"x": "independent", "y": "independent"}},
 "layer": [
  {"mark": {"type": "line", "strokeWidth": 1.8},
   "encoding": {
    "x": {"field": "t", "type": "quantitative", "scale": {"domain": [0, 300]}, "axis": {"orient": "bottom", "values": [0,50,100,150,200,250,300], "format": "d", "title": "Time [min]", "labelPadding": 12, "titlePadding": 6.5}},
    "y": {"field": "v", "type": "quantitative", "scale": {"domain": [0, 35000]}, "axis": {"orient": "left", "values": [5000,10000,15000,20000,25000,30000,35000], "format": "d", "title": null}},
    "color": {"field": "s", "type": "nominal", "scale": {"domain": ["Blank","HeLa TRex","HT-1080"], "range": ["#ff0000","#008000","#0000ff"]}, "legend": null}
   }},
  {"transform": [{"filter": "datum.s !== 'Blank'"}],
   "mark": {"type": "errorbar", "ticks": true, "size": 10, "thickness": 1.5},
   "encoding": {
    "x": {"field": "t", "type": "quantitative", "axis": {"orient": "top", "values": [0,50,100,150,200,250,300], "labels": false, "title": null}},
    "y": {"field": "v", "type": "quantitative", "axis": {"orient": "right", "values": [5000,10000,15000,20000,25000,30000,35000], "labels": false, "title": null}},
    "yError": {"field": "e"},
    "color": {"field": "s", "type": "nominal", "legend": null}
   }}
 ]},
{"width": 375, "height": 312, "title": {"text": "FreeStyle Expression Medium", "offset": 1.6},
 "transform": [{"filter": "datum.p === 6"}],
 "resolve": {"axis": {"x": "independent", "y": "independent"}},
 "layer": [
  {"mark": {"type": "line", "strokeWidth": 1.8},
   "encoding": {
    "x": {"field": "t", "type": "quantitative", "scale": {"domain": [0, 300]}, "axis": {"orient": "bottom", "values": [0,50,100,150,200,250,300], "format": "d", "title": "Time [min]", "labelPadding": 12, "titlePadding": 6.5}},
    "y": {"field": "v", "type": "quantitative", "scale": {"domain": [0, 35000]}, "axis": {"orient": "left", "values": [5000,10000,15000,20000,25000,30000,35000], "labels": false, "title": null}},
    "color": {"field": "s", "type": "nominal", "scale": {"domain": ["Blank","HeLa TRex","HT-1080"], "range": ["#ff0000","#008000","#0000ff"]}, "legend": null}
   }},
  {"transform": [{"filter": "datum.s !== 'Blank'"}],
   "mark": {"type": "errorbar", "ticks": true, "size": 10, "thickness": 1.5},
   "encoding": {
    "x": {"field": "t", "type": "quantitative", "axis": {"orient": "top", "values": [0,50,100,150,200,250,300], "labels": false, "title": null}},
    "y": {"field": "v", "type": "quantitative", "axis": {"orient": "right", "values": [5000,10000,15000,20000,25000,30000,35000], "labels": false, "title": null}},
    "yError": {"field": "e"},
    "color": {"field": "s", "type": "nominal", "legend": null}
   }}
 ]}
],
"config": {
 "font": "DejaVu Sans",
 "view": {"stroke": "#000", "strokeWidth": 1.5},
 "axis": {"grid": false, "domain": false, "ticks": true, "tickSize": -8, "tickWidth": 1.2, "tickColor": "#000", "labelFont": "DejaVu Sans", "labelFontSize": 21.7, "labelColor": "#000", "labelPadding": 16, "labelFlush": false, "labelOverlap": false, "titleFont": "DejaVu Sans", "titleFontSize": 21.7, "titleFontWeight": "normal", "titleColor": "#000"},
 "title": {"font": "DejaVu Sans", "fontSize": 21.7, "fontWeight": "normal", "color": "#000", "baseline": "alphabetic"}
}
}
